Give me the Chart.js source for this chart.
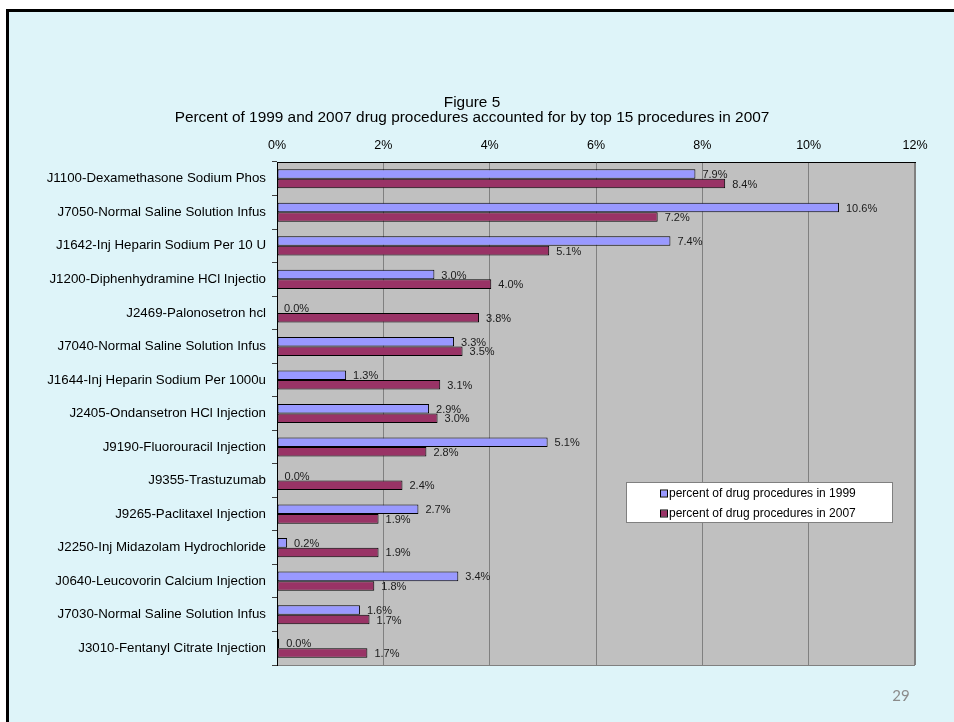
<!DOCTYPE html>
<html>
<head>
<meta charset="utf-8">
<script src="https://cdn.jsdelivr.net/npm/chart.js@4/dist/chart.umd.min.js"></script>
<style>
  html, body { margin: 0; padding: 0; background: #ffffff; }
  #frame { position: absolute; left: 6px; top: 9px; width: 960px; height: 730px;
           background: #def4f9; border-left: 3px solid #000; border-top: 3px solid #000; box-sizing: border-box; }
  #wrap { position: absolute; left: 0; top: 0; width: 954px; height: 722px; }
  #pagenum { position: absolute; left: 886px; top: 686px; width: 30px; text-align: center;
             font-family: Lato, "Open Sans", sans-serif; font-size: 15px; color: #8b8b8b; }
</style>
</head>
<body>
<div id="frame"></div>
<div id="wrap"><canvas id="c" width="954" height="722"></canvas></div>
<div id="pagenum">29</div>
<script>
const categories = [
  "J1100-Dexamethasone Sodium Phos",
  "J7050-Normal Saline Solution Infus",
  "J1642-Inj Heparin Sodium Per 10 U",
  "J1200-Diphenhydramine HCl Injectio",
  "J2469-Palonosetron hcl",
  "J7040-Normal Saline Solution Infus",
  "J1644-Inj Heparin Sodium Per 1000u",
  "J2405-Ondansetron HCl Injection",
  "J9190-Fluorouracil Injection",
  "J9355-Trastuzumab",
  "J9265-Paclitaxel Injection",
  "J2250-Inj Midazolam Hydrochloride",
  "J0640-Leucovorin Calcium Injection",
  "J7030-Normal Saline Solution Infus",
  "J3010-Fentanyl Citrate Injection"
];
const pct1999 = [7.87, 10.57, 7.40, 2.96, 0.0, 3.33, 1.30, 2.86, 5.09, 0.01, 2.66, 0.19, 3.41, 1.56, 0.04];
const pct2007 = [8.43, 7.16, 5.12, 4.03, 3.80, 3.49, 3.07, 3.02, 2.81, 2.36, 1.91, 1.91, 1.83, 1.74, 1.70];
const seriesNames = ["percent of drug procedures in 1999", "percent of drug procedures in 2007"];
const titleLines = ["Figure 5", "Percent of 1999 and 2007 drug procedures accounted for by top 15 procedures in 2007"];
const xTicks = [0, 2, 4, 6, 8, 10, 12];

const FONT = "'Liberation Sans', Arial, sans-serif";

const plotBg = {
  id: 'plotBg',
  beforeDraw(chart) {
    const {ctx, chartArea: a} = chart;
    ctx.save();
    ctx.fillStyle = '#c0c0c0';
    ctx.fillRect(a.left, a.top, a.right - a.left, a.bottom - a.top);
    ctx.strokeStyle = '#808080';
    ctx.lineWidth = 1;
    ctx.strokeRect(a.left + 0.5, a.top + 0.5, a.right - a.left - 1, a.bottom - a.top);
    ctx.restore();
  }
};

const valueLabels = {
  id: 'valueLabels',
  afterDatasetsDraw(chart) {
    const ctx = chart.ctx;
    ctx.save();
    ctx.font = "11px " + FONT;
    ctx.fillStyle = '#1a1a1a';
    ctx.textAlign = 'left';
    ctx.textBaseline = 'middle';
    chart.data.datasets.forEach((ds, di) => {
      const meta = chart.getDatasetMeta(di);
      meta.data.forEach((el, i) => {
        ctx.fillText(ds.data[i].toFixed(1) + '%', el.x + 7, el.y + 1);
      });
    });
    ctx.restore();
  }
};

const customLegend = {
  id: 'customLegend',
  afterDraw(chart) {
    const ctx = chart.ctx;
    ctx.save();
    ctx.fillStyle = '#ffffff';
    ctx.fillRect(626.5, 482.5, 266, 40);
    ctx.strokeStyle = '#808080';
    ctx.lineWidth = 1;
    ctx.strokeRect(626.5, 482.5, 266, 40);
    ctx.font = "12px " + FONT;
    ctx.textAlign = 'left';
    ctx.textBaseline = 'middle';
    chart.data.datasets.forEach((ds, i) => {
      const y = 493.5 + i * 20;
      ctx.fillStyle = ds.backgroundColor;
      ctx.fillRect(661, y - 3, 6, 6);
      ctx.strokeStyle = '#000';
      ctx.strokeRect(660.5, y - 3.5, 7, 7);
      ctx.fillStyle = '#000';
      ctx.fillText(ds.label, 669, y);
    });
    ctx.restore();
  }
};

const titlePlugin = {
  id: 'titlePlugin',
  afterDraw(chart) {
    const ctx = chart.ctx;
    ctx.save();
    ctx.font = "15.4px " + FONT;
    ctx.fillStyle = '#000';
    ctx.textAlign = 'center';
    ctx.textBaseline = 'middle';
    ctx.fillText(titleLines[0], 472, 103);
    ctx.fillText(titleLines[1], 472, 118);
    ctx.restore();
  }
};

new Chart(document.getElementById('c'), {
  type: 'bar',
  data: {
    labels: categories,
    datasets: [
      { label: seriesNames[0], data: pct1999, backgroundColor: '#9999ff', borderColor: '#000000',
        borderWidth: 1, borderSkipped: false, categoryPercentage: 0.57, barPercentage: 1.0 },
      { label: seriesNames[1], data: pct2007, backgroundColor: '#993366', borderColor: '#000000',
        borderWidth: 1, borderSkipped: false, categoryPercentage: 0.57, barPercentage: 1.0 }
    ]
  },
  options: {
    indexAxis: 'y',
    responsive: false,
    animation: false,
    layout: { padding: { left: 0, right: 39, top: 0, bottom: 57 } },
    plugins: { legend: { display: false }, title: { display: false }, tooltip: { enabled: false } },
    scales: {
      x: {
        position: 'top',
        min: 0, max: 12,
        afterBuildTicks(s) { s.ticks = xTicks.map(v => ({ value: v })); },
        afterFit(s) { s.height = 162; },
        ticks: { callback: v => v + '%', font: { family: FONT, size: 12.5 }, color: '#000', padding: 9, maxRotation: 0 },
        grid: { color: '#808080', drawTicks: false, lineWidth: 1 },
        border: { color: '#000000', width: 1 }
      },
      y: {
        afterFit(s) { s.width = 277; },
        ticks: { font: { family: FONT, size: 13.3 }, color: '#000', padding: 6 },
        grid: { offset: true, drawOnChartArea: false, drawTicks: true, tickLength: 5, color: '#404040' },
        border: { color: '#000000', width: 1 }
      }
    }
  },
  plugins: [plotBg, valueLabels, customLegend, titlePlugin]
});
</script>
</body>
</html>
